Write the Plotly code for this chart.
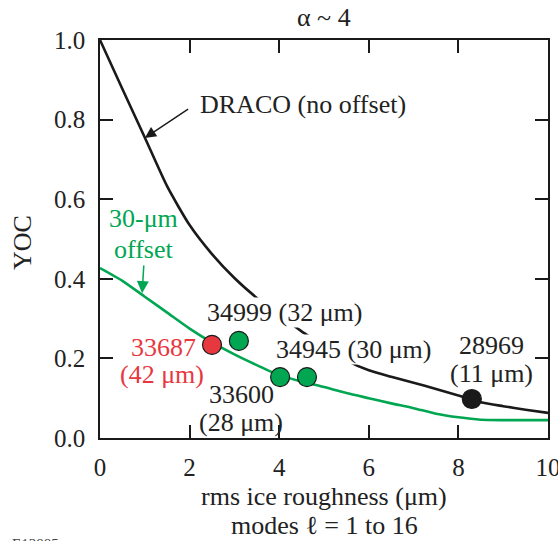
import plotly.graph_objects as go

# ---- data ----
draco_x = [0, 0.5, 1.0, 1.5, 2.0, 2.5, 3.0, 3.5, 4.0, 4.5, 5.0, 5.5, 6.0, 6.5, 7.0, 7.5, 8.0, 8.5, 9.0, 9.5, 10]
draco_y = [1.0, 0.877, 0.755, 0.632, 0.535, 0.462, 0.402, 0.352, 0.309, 0.268, 0.231, 0.195, 0.170, 0.154, 0.139, 0.123, 0.107, 0.090, 0.080, 0.071, 0.063]

offset_x = [0, 0.5, 1.0, 1.5, 2.0, 2.5, 3.0, 3.5, 4.0, 4.5, 5.0, 5.5, 6.0, 6.5, 7.0, 7.5, 8.0, 8.5, 9.0, 9.5, 10]
offset_y = [0.427, 0.395, 0.355, 0.315, 0.275, 0.240, 0.210, 0.183, 0.158, 0.142, 0.128, 0.113, 0.100, 0.087, 0.075, 0.061, 0.052, 0.046, 0.045, 0.045, 0.045]

shot_names = ["33687", "34999", "33600", "34945", "28969"]
shot_offsets = ["42 μm", "32 μm", "28 μm", "30 μm", "11 μm"]
shot_x = [2.5, 3.1, 4.02, 4.62, 8.3]
shot_y = [0.234, 0.244, 0.153, 0.153, 0.098]

x_ticks = [0, 2, 4, 6, 8, 10]
y_ticks = [0.0, 0.2, 0.4, 0.6, 0.8, 1.0]

GREEN = "#00A651"
RED = "#E8383F"
BLACK = "#1a1a1a"
FONT = "'Liberation Serif', 'Times New Roman', serif"
FS = 26

dot_colors = [RED, GREEN, GREEN, GREEN, BLACK]

fig = go.Figure()
fig.add_trace(go.Scatter(x=draco_x, y=draco_y, mode="lines",
                         line=dict(color=BLACK, width=2.6, shape="spline", smoothing=0.6),
                         showlegend=False, hoverinfo="skip"))
fig.add_trace(go.Scatter(x=offset_x, y=offset_y, mode="lines",
                         line=dict(color=GREEN, width=2.6, shape="spline", smoothing=0.6),
                         showlegend=False, hoverinfo="skip"))
fig.add_trace(go.Scatter(x=shot_x, y=shot_y, mode="markers",
                         marker=dict(size=19, color=dot_colors, line=dict(color=BLACK, width=1.2)),
                         showlegend=False))

ann = []
def label(text, x, y, color="#222", bg=None, xanchor="center", size=FS):
    d = dict(text=text, x=x, y=y, xref="x", yref="y", showarrow=False,
             font=dict(family=FONT, size=size, color=color), xanchor=xanchor, yanchor="middle")
    if bg:
        d["bgcolor"] = bg
        d["borderpad"] = 0
    ann.append(d)

# shot labels
label(f"{shot_names[1]} ({shot_offsets[1]})", 4.11, 0.316, bg="white")
label(f"{shot_names[3]} ({shot_offsets[3]})", 5.65, 0.223, bg="white")
label(shot_names[0], 1.41, 0.228, color=RED)
label(f"({shot_offsets[0]})", 1.39, 0.160, color=RED)
label(shot_names[2], 3.15, 0.109)
label(f"({shot_offsets[2]})", 3.15, 0.040)
label(shot_names[4], 8.73, 0.232)
label(f"({shot_offsets[4]})", 8.73, 0.163)
label("DRACO (no offset)", 4.53, 0.838)
label("30-μm", 0.96, 0.551, color=GREEN)
label("offset", 0.98, 0.473, color=GREEN)

# arrows
ann.append(dict(x=1.0, y=0.754, ax=2.0, ay=0.829, xref="x", yref="y", axref="x", ayref="y",
                text="", showarrow=True, arrowhead=2, arrowsize=1.6, arrowwidth=1.4, arrowcolor=BLACK))
ann.append(dict(x=0.94, y=0.364, ax=0.98, ay=0.437, xref="x", yref="y", axref="x", ayref="y",
                text="", showarrow=True, arrowhead=2, arrowsize=1.6, arrowwidth=1.5, arrowcolor=GREEN))

# titles
ann.append(dict(text="α ~ 4", x=0.5, y=1, xref="paper", yref="paper", yshift=23,
                showarrow=False, font=dict(family=FONT, size=FS, color="#222"), yanchor="middle"))
ann.append(dict(text="YOC", x=-0.172, y=0.4925, xref="paper", yref="paper", textangle=-90,
                showarrow=False, font=dict(family=FONT, size=FS, color="#222"), xanchor="center", yanchor="middle"))
ann.append(dict(text="rms ice roughness (μm)", x=0.5, y=0, xref="paper", yref="paper", yshift=-58,
                showarrow=False, font=dict(family=FONT, size=FS, color="#222"), yanchor="middle"))
ann.append(dict(text="modes ℓ = 1 to 16", x=0.5, y=0, xref="paper", yref="paper", yshift=-87,
                showarrow=False, font=dict(family=FONT, size=FS, color="#222"), yanchor="middle"))
ann.append(dict(text="E13885", x=-0.2009, y=0, xref="paper", yref="paper", yshift=-96,
                showarrow=False, font=dict(family=FONT, size=15, color="#444"), xanchor="left", yanchor="top"))

axis_common = dict(showline=True, linecolor=BLACK, linewidth=1.6, mirror="ticks",
                   ticks="inside", ticklen=13, tickwidth=1.5, tickcolor=BLACK,
                   showgrid=False, zeroline=False, ticklabeloverflow="allow", automargin=False,
                   tickfont=dict(family=FONT, size=25, color="#222"))

fig.update_layout(
    width=558, height=541,
    margin=dict(l=100, r=10, t=40, b=103, autoexpand=False),
    plot_bgcolor="white", paper_bgcolor="white",
    xaxis=dict(range=[0, 10], tickvals=x_ticks, ticktext=[str(v) for v in x_ticks],
               ticklabelstandoff=6, **axis_common),
    yaxis=dict(range=[0, 1], tickvals=y_ticks, ticktext=[f"{v:.1f}" for v in y_ticks],
               ticklabelstandoff=8, **axis_common),
    annotations=ann,
)

fig.write_html("out.html")
